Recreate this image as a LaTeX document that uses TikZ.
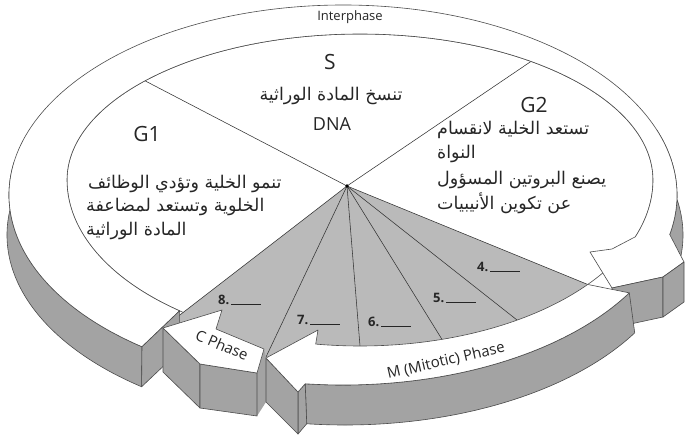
\documentclass[tikz,border=0pt]{standalone}
\usepackage{fontspec}
\setmainfont{Open Sans}
\newfontfamily\arabicfont[Script=Arabic]{DejaVu Sans}
\TeXXeTstate=1
\usetikzlibrary{calc}
\begin{document}
\begin{tikzpicture}[x=1pt,y=-1pt,
  edge/.style={draw=black!70, line width=0.6pt, line join=round},
  topface/.style={edge, fill=white},
  sideface/.style={edge, fill=black!36},
  wedgefill/.style={fill=black!27},
  divider/.style={draw=black!80, line width=0.55pt},
  biglbl/.style={font=\fontsize{21}{25}\selectfont, text=black!85, inner sep=0pt},
  artxt/.style={font=\arabicfont\fontsize{17.5}{21}\selectfont, text=black!85, inner sep=0pt, anchor=west},
  numlbl/.style={font=\bfseries\fontsize{13}{15}\selectfont, text=black!85, inner sep=0pt, anchor=west},
  phaselbl/.style={font=\fontsize{15}{18}\selectfont, text=black!85, inner sep=0pt},
]
\useasboundingbox (0,0) rectangle (686,445);
\fill[white] (0,0) rectangle (686,445);
\coordinate (Ic) at (360,180);
\coordinate (Oc) at (343,195);
\coordinate (Bc) at (345,235);
\coordinate (apex) at (347,186);

% side faces of the interphase ring
\path[sideface] ($(Oc)+(127:334 and 190)$) arc[start angle=127,end angle=190,x radius=334,y radius=190]
  -- ($(Bc)+(190:338 and 190)$) arc[start angle=190,end angle=127,x radius=338,y radius=190] -- cycle;
\path[sideface] ($(Oc)+(-20:334 and 190)$) arc[start angle=-20,end angle=12,x radius=334,y radius=190]
  -- ($(Bc)+(12:338 and 190)$) arc[start angle=12,end angle=-20,x radius=338,y radius=190] -- cycle;

% inner disc outline
\draw[edge] (653,180) arc[start angle=0,end angle=180,x radius=293,y radius=166]
  arc[start angle=180,end angle=360,x radius=293,y radius=146];

% gray M wedge
\fill[wedgefill] (apex) -- (163,328) -- (266,357) -- (440,352) -- (520,335) -- (570,310) -- (592,290) -- ($(Ic)+(39:293 and 166)$) -- cycle;

% dividers
\coordinate (g1s) at ($(Ic)+(222.8:293 and 146)$);
\coordinate (sg2) at ($(Ic)+(305.7:293 and 146)$);
\coordinate (r0) at (163,328);
\coordinate (r1) at (266,357);
\coordinate (r2) at (360,346);
\coordinate (r3) at (442,339.4);
\coordinate (r4) at (517,320);
\coordinate (r5) at ($(Ic)+(39:293 and 166)$);
\draw[divider] (apex) -- (g1s);
\draw[divider] (apex) -- (sg2);
\foreach \r in {r0,r1,r2,r3,r4,r5} \draw[divider] (apex) -- (\r);
\fill[black] (apex) circle[radius=1.8];

% interphase band top
\path[topface] ($(Oc)+(127:334 and 190)$) arc[start angle=127,end angle=372,x radius=334,y radius=190]
  -- (684,262) -- (663,277) -- (612,288) -- (590,252) -- (612,249)
  -- ($(Ic)+(20:293 and 166)$) arc[start angle=20,end angle=0,x radius=293,y radius=166]
  arc[start angle=360,end angle=180,x radius=293,y radius=146]
  arc[start angle=180,end angle=128,x radius=293,y radius=166] -- cycle;

% interphase arrowhead side faces
\path[sideface] (612,288) -- (663,277) -- (663,317) -- (612,328) -- cycle;
\path[sideface] (663,277) -- (684,262) -- (684,302) -- (663,317) -- cycle;

% M band side faces
\fill[black!36] (257,373) -- (264,349) -- (266,358) -- (266,402) -- (257,416) -- cycle;
\path[sideface] ($(Oc)+(31:334 and 190)$) arc[start angle=31,end angle=96.5,x radius=334,y radius=190]
  -- ($(Bc)+(96.5:338 and 190)$) arc[start angle=96.5,end angle=31,x radius=338,y radius=190] -- cycle;
\path[sideface] ($(Oc)+(96.5:334 and 190)$) -- (298,392) -- (298,434) -- ($(Bc)+(96.5:338 and 190)$) -- cycle;
\path[sideface] (298,392) -- (266,358) -- (266,402) -- (298,434) -- cycle;
% M band top
\path[topface] ($(Ic)+(98.7:293 and 166)$) arc[start angle=98.7,end angle=39,x radius=293,y radius=166]
  -- ($(Oc)+(31:334 and 190)$) arc[start angle=31,end angle=96.5,x radius=334,y radius=190]
  -- (298,392) -- (266,358) -- (318,330) -- cycle;

% interphase tail end face
\path[sideface] ($(Oc)+(127:334 and 190)$) -- ($(Ic)+(128:293 and 166)$) -- ++(0,40) -- ($(Bc)+(127:338 and 190)$) -- cycle;

% C arrow
\path[sideface] (163,328) -- (200,364) -- (200,408) -- (163,372) -- cycle;
\path[sideface] (200,364) -- (257,373) -- (257,416) -- (200,408) -- cycle;
\path[topface] (163,328) -- (222,310) -- (216,329) -- (264,349) -- (257,373) -- (200,364) -- cycle;

% texts
\node[font=\fontsize{13}{15}\selectfont, text=black!85] (interphase) at (350,17) {Interphase};
\node[biglbl] (S) at (330,62) {S};
\node[artxt, anchor=center] (stxt) at (331,96) {\beginR تنسخ المادة الوراثية\endR};
\node[font=\fontsize{18}{21}\selectfont, text=black!85, inner sep=0pt] (dna) at (332,124) {DNA};
\node[biglbl] (G1) at (147,134) {G1};
\node[biglbl] (G2) at (534,105) {G2};
\node[artxt] (g2a) at (437,130) {\beginR تستعد الخلية لانقسام\endR};
\node[artxt] (g2b) at (437,154) {\beginR النواة\endR};
\node[artxt] (g2c) at (437,180) {\beginR يصنع البروتين المسؤول\endR};
\node[artxt] (g2d) at (437,203) {\beginR عن تكوين الأنيبيات\endR};
\node[artxt] (g1a) at (88,184) {\beginR تنمو الخلية وتؤدي الوظائف\endR};
\node[artxt] (g1b) at (86,207) {\beginR الخلوية وتستعد لمضاعفة\endR};
\node[artxt] (g1c) at (86,231) {\beginR المادة الوراثية\endR};

\node[numlbl] (n4) at (477,267) {4.\,\rule[-1pt]{30pt}{1.2pt}};
\node[numlbl] (n5) at (433,298) {5.\,\rule[-1pt]{30pt}{1.2pt}};
\node[numlbl] (n6) at (368,322) {6.\,\rule[-1pt]{30pt}{1.2pt}};
\node[numlbl] (n7) at (297,320) {7.\,\rule[-1pt]{30pt}{1.2pt}};
\node[numlbl] (n8) at (218,300) {8.\,\rule[-1pt]{30pt}{1.2pt}};

\node[phaselbl, rotate=-23] (cphase) at (222,345) {C Phase};
\node[phaselbl, rotate=13] (mphase) at (446,361) {M (Mitotic) Phase};
\end{tikzpicture}
\end{document}
